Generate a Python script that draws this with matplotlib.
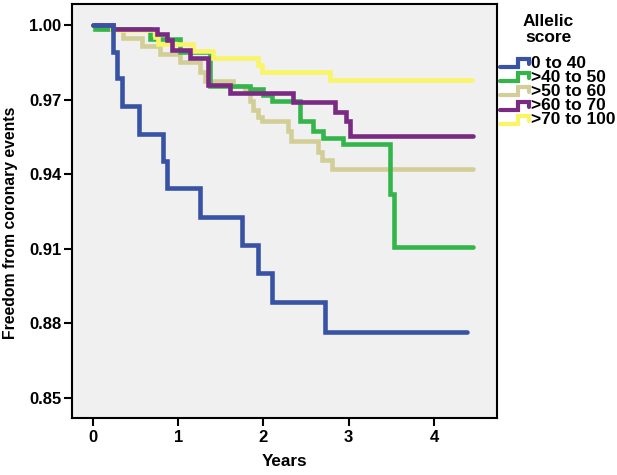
import matplotlib
matplotlib.use("Agg")
import matplotlib.pyplot as plt
from matplotlib.lines import Line2D

plt.rcParams['font.family'] = ['Liberation Sans', 'DejaVu Sans']

# ---- data (Kaplan-Meier step curves: event times in years, survival after each step) ----
groups = ["0 to 40", ">40 to 50", ">50 to 60", ">60 to 70", ">70 to 100"]
colors = ["#3953A4", "#33B54A", "#D3CE97", "#7A2A82", "#FAF566"]

blue_t = [0.238, 0.278, 0.337, 0.538, 0.818, 0.865, 1.256, 1.745, 1.940, 2.097, 2.72]
blue_s = [0.9891, 0.9787, 0.9676, 0.9563, 0.9453, 0.9343, 0.9229, 0.9115, 0.9002, 0.8887, 0.8766]
blue_end = 4.39

green_t = [0.023, 0.669, 1.021, 1.373, 1.843, 1.995, 2.101, 2.430, 2.582, 2.700, 2.934, 3.486, 3.533]
green_s = [0.9984, 0.9944, 0.9891, 0.9755, 0.9743, 0.9719, 0.9695, 0.9614, 0.9574, 0.9546, 0.9522, 0.9320, 0.9107]
green_end = 4.46

tan_t = [0.082, 0.352, 0.575, 0.786, 1.021, 1.256, 1.315, 1.643, 1.784, 1.843, 1.878, 1.937, 1.984,
         2.289, 2.324, 2.641, 2.688, 2.805]
tan_s = [0.9984, 0.9948, 0.9916, 0.9883, 0.9851, 0.9811, 0.9775, 0.9755, 0.9731, 0.9694, 0.9658, 0.9630,
         0.9614, 0.9574, 0.9534, 0.9489, 0.9457, 0.9421]
tan_end = 4.46

purple_t = [0.235, 0.751, 0.869, 0.927, 1.138, 1.350, 1.608, 2.347, 2.840, 2.969, 3.016]
purple_s = [0.9984, 0.9964, 0.9940, 0.9899, 0.9867, 0.9759, 0.9727, 0.9690, 0.9650, 0.9614, 0.9554]
purple_end = 4.46

yellow_t = [0.223, 0.728, 0.763, 1.174, 1.408, 1.937, 1.984, 2.782]
yellow_s = [0.9980, 0.9952, 0.9924, 0.9895, 0.9867, 0.9839, 0.9811, 0.9779]
yellow_end = 4.45

series = [
    (blue_t, blue_s, blue_end),
    (green_t, green_s, green_end),
    (tan_t, tan_s, tan_end),
    (purple_t, purple_s, purple_end),
    (yellow_t, yellow_s, yellow_end),
]
zorders = [7, 4, 3, 6, 5]

x_ticks = [0, 1, 2, 3, 4]
y_ticks = [0.85, 0.88, 0.91, 0.94, 0.97, 1.00]

W, H = 617, 475
fig = plt.figure(figsize=(W / 100, H / 100), dpi=100)
ax = fig.add_axes([72 / W, 1 - 418 / H, (497 - 72) / W, (418 - 4) / H])
ax.set_facecolor("#F0F0F0")

for (t, s, tend), c, z in zip(series, colors, zorders):
    xs = [0.0] + list(t) + [tend]
    ys = [1.0] + list(s) + [s[-1]]
    ax.step(xs, ys, where="post", color=c, lw=3.3, zorder=z,
            solid_capstyle="round", solid_joinstyle="miter")

ax.set_xlim(-0.246, 4.74)
ax.set_ylim(0.842, 1.0084)
ax.set_xticks(x_ticks)
ax.set_xticklabels([str(v) for v in x_ticks])
ax.set_yticks(y_ticks)
ax.set_yticklabels([f"{v:.2f}" for v in y_ticks])

for sp in ax.spines.values():
    sp.set_linewidth(1.5)
    sp.set_color("black")
ax.tick_params(axis="both", direction="out", length=6, width=1.5, labelsize=12, colors="black")
ax.tick_params(axis="y", pad=1.5)
ax.tick_params(axis="x", pad=3)
for lbl in ax.get_xticklabels() + ax.get_yticklabels():
    lbl.set_fontweight("bold")

ax.set_xlabel("Years", fontsize=12.3, fontweight="bold")
ax.xaxis.set_label_coords(0.5, -0.087)
fig.text(11 / W, 1 - 223 / H, "Freedom from coronary events", rotation=90,
         ha="center", va="center", fontsize=11.3, fontweight="bold")

# ---- legend (drawn manually to mimic SPSS layout) ----
def fx(px):
    return px / W

def fy(py):
    return 1 - py / H

fig.text(fx(548), fy(21), "Allelic", ha="center", va="center", fontsize=12.5, fontweight="bold")
fig.text(fx(548), fy(37), "score", ha="center", va="center", fontsize=12.5, fontweight="bold")
row_y = [63, 77, 91, 106, 120]
for name, c, cy in zip(groups, colors, row_y):
    xs = [fx(500), fx(518), fx(518), fx(529), fx(529)]
    ys = [fy(cy + 4), fy(cy + 4), fy(cy - 4), fy(cy - 4), fy(cy + 1)]
    fig.add_artist(Line2D(xs, ys, color=c, lw=3.0, solid_capstyle="round",
                          solid_joinstyle="miter", transform=fig.transFigure))
    fig.text(fx(531), fy(cy), name, ha="left", va="center", fontsize=12.5, fontweight="bold")

fig.savefig("out.png", dpi=100, facecolor="white")
